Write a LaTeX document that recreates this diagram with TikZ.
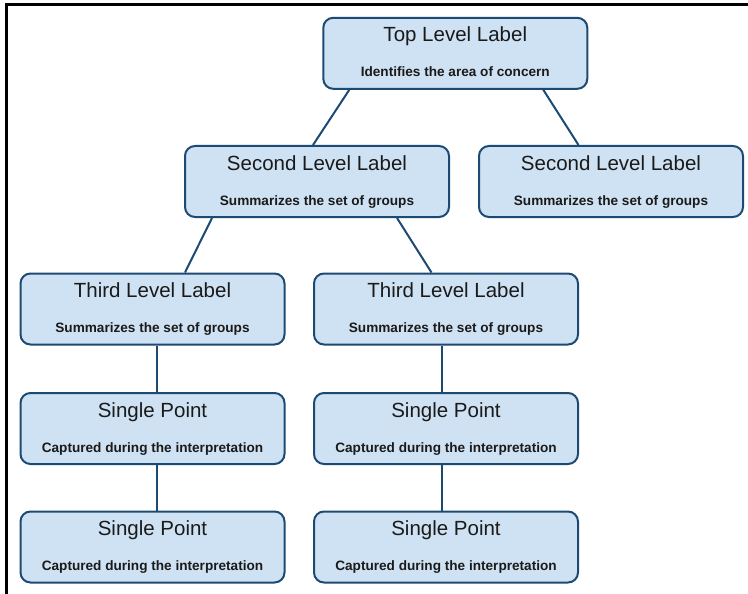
\documentclass[tikz,border=0pt]{standalone}
\usepackage{fontspec}
\setmainfont{Liberation Sans}
\definecolor{boxfill}{HTML}{CFE2F3}
\definecolor{boxline}{HTML}{1D4A73}
\definecolor{txt}{HTML}{1A1A1A}
\tikzset{
  card/.style={draw=boxline, fill=boxfill, line width=2pt, rounded corners=10pt,
    minimum width=264pt, minimum height=71pt, inner sep=0pt},
  ttl/.style={anchor=base, font=\fontsize{20.5}{24}\selectfont, text=txt, inner sep=0pt},
  sub/.style={anchor=base, font=\fontsize{13.6}{16}\selectfont\bfseries, text=txt, inner sep=0pt},
  link/.style={draw=boxline, line width=2pt},
  frame/.style={draw=black, line width=2.5pt},
}
\newcommand\mkcard[5]{%
  \node[card] (#1) at (#2,#3) {};
  \node[ttl] (#1t) at ([yshift=-25pt]#1.north) {#4};
  \node[sub] (#1s) at ([yshift=-60pt]#1.north) {#5};
}
\begin{document}
\begin{tikzpicture}[x=1pt,y=-1pt]
  \useasboundingbox (0,0) rectangle (748,594);
  \draw[frame] (6.5,594) -- (6.5,4.5) -- (748,4.5);

  \mkcard{top}{455.3}{53.3}{Top Level Label}{Identifies the area of concern}
  \mkcard{sa}{317}{181.5}{Second Level Label}{Summarizes the set of groups}
  \mkcard{sb}{611}{181.5}{Second Level Label}{Summarizes the set of groups}
  \mkcard{ta}{152.5}{309}{Third Level Label}{Summarizes the set of groups}
  \mkcard{tb}{446}{309}{Third Level Label}{Summarizes the set of groups}
  \mkcard{pa}{152.5}{428.5}{Single Point}{Captured during the interpretation}
  \mkcard{pb}{446}{428.5}{Single Point}{Captured during the interpretation}
  \mkcard{qa}{152.5}{547}{Single Point}{Captured during the interpretation}
  \mkcard{qb}{446}{547}{Single Point}{Captured during the interpretation}

  \draw[link] ([xshift=-106pt]top.south) -- ([xshift=-4pt]sa.north);
  \draw[link] ([xshift=88pt]top.south) -- ([xshift=-32.5pt]sb.north);
  \draw[link] ([xshift=-105pt]sa.south) -- ([xshift=32.5pt]ta.north);
  \draw[link] ([xshift=80pt]sa.south) -- ([xshift=-14.5pt]tb.north);
  \draw[link] ([xshift=4.5pt]ta.south) -- ([xshift=4.5pt]pa.north);
  \draw[link] ([xshift=4.5pt]pa.south) -- ([xshift=4.5pt]qa.north);
  \draw[link] ([xshift=-4.5pt]tb.south) -- ([xshift=-4.5pt]pb.north);
  \draw[link] ([xshift=-4.5pt]pb.south) -- ([xshift=-4.5pt]qb.north);
\end{tikzpicture}
\end{document}
